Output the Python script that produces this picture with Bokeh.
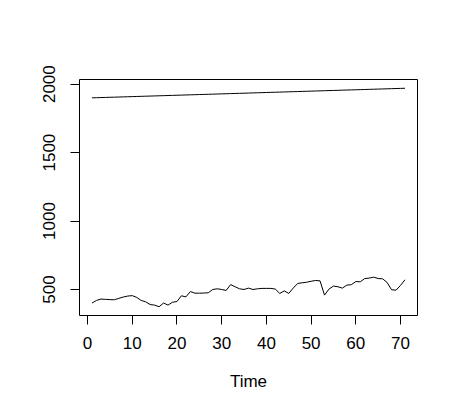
from bokeh.plotting import figure
from bokeh.models import Range1d, FixedTicker
from bokeh.embed import file_html
from bokeh.resources import INLINE

time_idx = [1, 2, 3, 4, 5, 6, 7, 8, 9, 10, 11, 12, 13, 14, 15, 16, 17, 18, 19, 20,
            21, 22, 23, 24, 25, 26, 27, 28, 29, 30, 31, 32, 33, 34, 35, 36, 37, 38, 39, 40,
            41, 42, 43, 44, 45, 46, 47, 48, 49, 50, 51, 52, 53, 54, 55, 56, 57, 58, 59, 60,
            61, 62, 63, 64, 65, 66, 67, 68, 69, 70, 71]

year = [1900, 1901, 1902, 1903, 1904, 1905, 1906, 1907, 1908, 1909,
        1910, 1911, 1912, 1913, 1914, 1915, 1916, 1917, 1918, 1919,
        1920, 1921, 1922, 1923, 1924, 1925, 1926, 1927, 1928, 1929,
        1930, 1931, 1932, 1933, 1934, 1935, 1936, 1937, 1938, 1939,
        1940, 1941, 1942, 1943, 1944, 1945, 1946, 1947, 1948, 1949,
        1950, 1951, 1952, 1953, 1954, 1955, 1956, 1957, 1958, 1959,
        1960, 1961, 1962, 1963, 1964, 1965, 1966, 1967, 1968, 1969, 1970]

series = [401, 420, 430, 428, 426, 425, 435, 445, 452, 455,
          442, 420, 410, 390, 386, 374, 401, 386, 407, 412,
          454, 446, 485, 473, 473, 474, 476, 500, 505, 500,
          493, 536, 520, 505, 500, 510, 500, 505, 508, 508,
          508, 503, 471, 490, 471, 510, 544, 549, 553, 560,
          566, 563, 459, 503, 525, 520, 510, 532, 535, 558,
          556, 580, 583, 590, 580, 578, 551, 498, 495, 530, 571]

x_ticks = [0, 10, 20, 30, 40, 50, 60, 70]
y_ticks = [500, 1000, 1500, 2000]

FONT = "Liberation Sans"

p = figure(width=442, height=397, output_backend="svg", toolbar_location=None,
           x_range=Range1d(-1.8, 73.8), y_range=Range1d(310, 2034),
           min_border_left=79, min_border_right=25, min_border_top=79, min_border_bottom=82)

p.line(time_idx, year, line_color="black", line_width=1)
p.line(time_idx, series, line_color="black", line_width=1)

p.xgrid.grid_line_color = None
p.ygrid.grid_line_color = None
p.outline_line_color = "black"
p.outline_line_width = 1
p.background_fill_color = "white"
p.border_fill_color = "white"

p.xaxis.ticker = FixedTicker(ticks=x_ticks)
p.yaxis.ticker = FixedTicker(ticks=y_ticks)
p.xaxis.axis_label = "Time"
for ax in (p.xaxis[0], p.yaxis[0]):
    ax.minor_tick_line_color = None
    ax.major_tick_in = 0
    ax.major_tick_out = 9
    ax.major_tick_line_color = "black"
    ax.axis_line_color = None
    ax.major_label_text_font = FONT
    ax.major_label_text_font_size = "17px"
    ax.major_label_text_color = "black"
    ax.axis_label_text_font = FONT
    ax.axis_label_text_font_size = "17px"
    ax.axis_label_text_font_style = "normal"
    ax.axis_label_text_color = "black"

p.xaxis.major_label_standoff = 12
p.xaxis.axis_label_standoff = 20
p.yaxis.major_label_orientation = "vertical"
p.yaxis.major_label_standoff = 15

open("out.html", "w").write(file_html(p, INLINE))
